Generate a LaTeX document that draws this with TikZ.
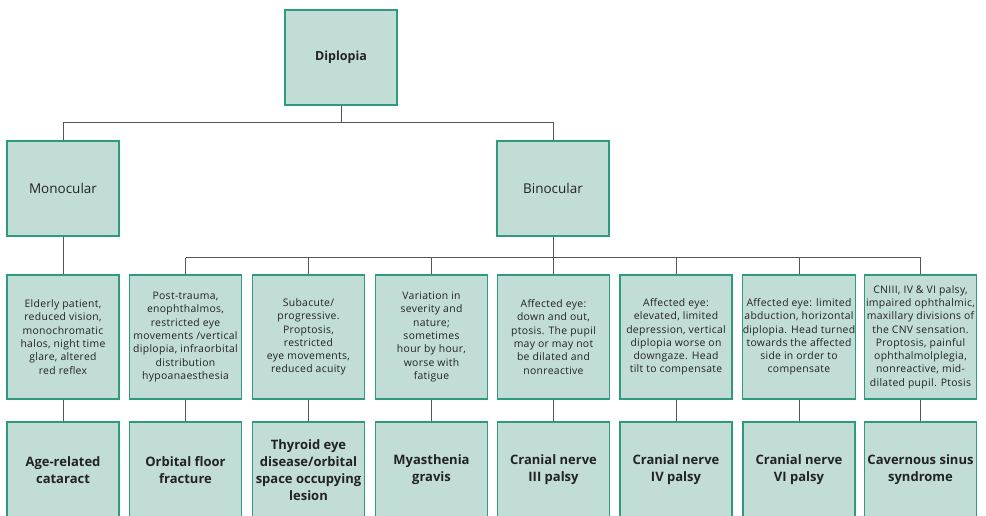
\documentclass[tikz,border=0pt]{standalone}
\usepackage{fontspec}
\setmainfont{Open Sans}
\newfontfamily\descfont[LetterSpace=3]{Open Sans}
\definecolor{boxfill}{HTML}{C2DDD6}
\definecolor{boxline}{HTML}{2E9A7F}
\definecolor{conncol}{HTML}{555555}
\definecolor{txtcol}{HTML}{222222}
\begin{document}
\begin{tikzpicture}[x=1pt,y=-1pt,
  box/.style={draw=boxline, fill=boxfill, line width=1.1pt, minimum width=112pt,
    inner sep=0pt, align=center, text=txtcol},
  topbox/.style={box, minimum height=95pt},
  descbox/.style={box, minimum height=124pt, font=\descfont\fontsize{10.4}{13.3}\selectfont},
  diagbox/.style={box, minimum height=96pt, font=\fontsize{13}{17}\selectfont\bfseries},
  link/.style={draw=conncol, line width=1pt}]
\useasboundingbox (0,0) rectangle (986,516);
\clip (0,0) rectangle (986,516);

\node[topbox, font=\fontsize{12.5}{14}\selectfont\bfseries] (dip) at (341,57.5) {Diplopia};
\node[topbox, font=\fontsize{13.5}{15}\selectfont] (mono) at (63,188.5) {Monocular};
\node[topbox, font=\fontsize{13.5}{15}\selectfont] (bino) at (553,188.5) {Binocular};

\node[descbox] (c1) at (63,337) {Elderly patient,\\reduced vision,\\monochromatic\\halos, night time\\glare, altered\\red reflex};
\node[descbox] (c2) at (185.5,337) {Post-trauma,\\enophthalmos,\\restricted eye\\movements /vertical\\diplopia, infraorbital\\distribution\\hypoanaesthesia};
\node[descbox] (c3) at (308.5,337) {Subacute/\\progressive.\\Proptosis,\\restricted\\eye movements,\\reduced acuity};
\node[descbox] (c4) at (431.5,337) {Variation in\\severity and\\nature;\\sometimes\\hour by hour,\\worse with\\fatigue};
\node[descbox] (c5) at (553.5,337) {Affected eye:\\down and out,\\ptosis. The pupil\\may or may not\\be dilated and\\nonreactive};
\node[descbox] (c6) at (676,337) {Affected eye:\\elevated, limited\\depression, vertical\\diplopia worse on\\downgaze. Head\\tilt to compensate};
\node[descbox] (c7) at (799,337) {Affected eye: limited\\abduction, horizontal\\diplopia. Head turned\\towards the affected\\side in order to\\compensate};
\node[descbox] (c8) at (920.5,337) {CNIII, IV \& VI palsy,\\impaired ophthalmic,\\maxillary divisions of\\the CNV sensation.\\Proptosis, painful\\ophthalmolplegia,\\nonreactive, mid-\\dilated pupil. Ptosis};

\node[diagbox] (d1) at (63,470) {Age-related\\cataract};
\node[diagbox] (d2) at (185.5,470) {Orbital floor\\fracture};
\node[diagbox] (d3) at (308.5,470) {Thyroid eye\\disease/orbital\\space occupying\\lesion};
\node[diagbox] (d4) at (431.5,470) {Myasthenia\\gravis};
\node[diagbox] (d5) at (553.5,470) {Cranial nerve\\III palsy};
\node[diagbox] (d6) at (676,470) {Cranial nerve\\IV palsy};
\node[diagbox] (d7) at (799,470) {Cranial nerve\\VI palsy};
\node[diagbox] (d8) at (920.5,470) {Cavernous sinus\\syndrome};

\coordinate (bus1) at (0,122.5);
\coordinate (bus2) at (0,257.5);

\draw[link] (dip.south) -- (dip.south |- bus1);
\draw[link] (mono.north) -- (mono.north |- bus1) -- (bino.north |- bus1) -- (bino.north);
\draw[link] (mono.south) -- (c1.north);
\draw[link] (bino.south) -- (bino.south |- bus2);
\draw[link] (c2.north |- bus2) -- (c8.north |- bus2);
\foreach \i in {2,...,8} {\draw[link] (c\i.north) -- (c\i.north |- bus2);}
\foreach \i in {1,...,8} {\draw[link] (c\i.south) -- (d\i.north);}
\end{tikzpicture}
\end{document}
